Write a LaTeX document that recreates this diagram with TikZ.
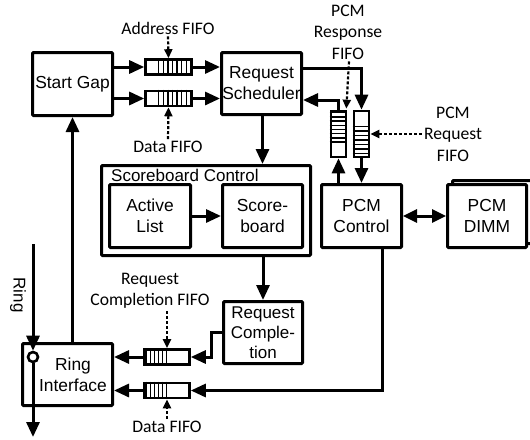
\documentclass[tikz,border=0pt]{standalone}
\usepackage{fontspec}
\setmainfont{Liberation Sans}
\newfontfamily\calfont{Carlito}
\usetikzlibrary{arrows.meta,calc}
\begin{document}
\begin{tikzpicture}[x=1pt,y=-1pt,
  box/.style={draw,line width=3pt,rounded corners=1pt,align=center,inner sep=0pt,font=\fontsize{17.4}{21}\selectfont},
  fifo/.style={draw,line width=2.6pt,fill=white,inner sep=0pt},
  stripe/.style={line width=1.5pt},
  conn/.style={line width=3pt,-{Triangle[length=15pt,width=13pt]}},
  dconn/.style={line width=3pt,{Triangle[length=14pt,width=13pt]}-{Triangle[length=14pt,width=13pt]}},
  dotarr/.style={line width=2.2pt,dash pattern=on 3pt off 2pt,-{Triangle[length=9pt,width=8pt]}},
  lbl/.style={font=\calfont\fontsize{17.6}{21.5}\selectfont,align=center,inner sep=0pt},
]
\useasboundingbox (0,0) rectangle (530,439);

% boxes
\node[box,minimum width=80pt,minimum height=63pt] (startgap) at (72.5,84) {Start Gap};
\node[box,minimum width=80pt,minimum height=62pt] (sched) at (261.5,83.5) {Request\\Scheduler};
\node[box,minimum width=209pt,minimum height=90pt] (sbctrl) at (206,210.5) {};
\node[anchor=west,inner sep=0pt,font=\fontsize{17}{21}\selectfont] (sbclbl) at (111,175) {Scoreboard Control};
\node[box,minimum width=81pt,minimum height=63pt] (active) at (150,216) {Active\\List};
\node[box,minimum width=80pt,minimum height=63pt] (score) at (262.5,216) {Score-\\board};
\node[box,minimum width=79pt,minimum height=62pt,font=\fontsize{17}{20}\selectfont] (reqcomp) at (263,332.5) {Request\\Comple-\\tion};
\node[box,minimum width=90pt,minimum height=62pt] (ringif) at (67.5,374.5) {};
\node[box,draw=none] (ringtxt) at (73,375) {Ring\\Interface};
\node[box,minimum width=80pt,minimum height=63pt] (pcmctrl) at (361.5,216) {PCM\\Control};
\node[box,minimum width=79pt,minimum height=63pt] (pcmback) at (492,212) {};
\node[box,fill=white,minimum width=79pt,minimum height=63pt] (pcmdimm) at (487,216) {PCM\\DIMM};

% fifos
\node[fifo,minimum width=46pt,minimum height=15pt] (addr) at (168.5,67) {};
\node[fifo,minimum width=46pt,minimum height=15pt] (data) at (168.5,98.5) {};
\node[fifo,minimum width=45pt,minimum height=15pt] (rcfifo) at (167,357) {};
\node[fifo,minimum width=45pt,minimum height=15pt] (dfifo) at (167,390.5) {};
\node[fifo,minimum width=15pt,minimum height=46pt] (respf) at (338.5,134) {};
\node[fifo,minimum width=15pt,minimum height=46pt] (reqf) at (361.5,134) {};

\foreach \f in {addr,data}{
  \foreach \i in {0,...,6}{
    \draw[stripe] ($(\f.north west)+(14.5+4.6*\i,0)$) -- ($(\f.south west)+(14.5+4.6*\i,0)$);
  }
}
\foreach \f in {rcfifo,dfifo}{
  \foreach \i in {0,...,5}{
    \draw[stripe] ($(\f.north west)+(3+4.1*\i,0)$) -- ($(\f.south west)+(3+4.1*\i,0)$);
  }
}
\foreach \i in {0,...,7}{
  \draw[stripe] ($(respf.north west)+(0,3+4.2*\i)$) -- ($(respf.north east)+(0,3+4.2*\i)$);
}
\foreach \i in {0,...,6}{
  \draw[stripe] ($(reqf.north west)+(0,17+4.5*\i)$) -- ($(reqf.north east)+(0,17+4.5*\i)$);
}

% labels
\node[lbl] (addrlbl) at (168,28) {Address FIFO};
\node[lbl] (datalbl) at (168,147) {Data FIFO};
\node[lbl] (resplbl) at (348,32) {PCM\\Response\\FIFO};
\node[lbl] (reqlbl) at (453,134) {PCM\\Request\\FIFO};
\node[lbl] (rclbl) at (150,291) {Request\\Completion FIFO};
\node[lbl] (dlbl) at (167,427) {Data FIFO};
\node[rotate=-90,inner sep=0pt,font=\fontsize{17}{21}\selectfont] (ringlbl) at (18,295) {Ring};

% connectors
\draw[conn] (startgap.east |- addr.west) -- (addr.west);
\draw[conn] (addr.east) -- (sched.west |- addr.east);
\draw[conn] (startgap.east |- data.west) -- (data.west);
\draw[conn] (data.east) -- (sched.west |- data.east);
\draw[conn] (sched.south -| score.north) -- (sbctrl.north -| score.north);
\draw[conn] (sbctrl.south -| reqcomp.north) -- (reqcomp.north);
\draw[conn] (active.east) -- (score.west);
\draw[conn] ($(sched.east)+(0,-15.5)$) -| (reqf.north);
\draw[conn] (respf.north) |- ($(sched.east)+(0,16.5)$);
\draw[conn] (respf.south |- pcmctrl.north) -- (respf.south);
\draw[conn] (reqf.south) -- (reqf.south |- pcmctrl.north);
\draw[dconn] (pcmctrl.east) -- (pcmdimm.west);
\draw[conn] ($(reqcomp.west)+(0,-0.5)$) -- ++(-11,0) |- (rcfifo.east);
\draw[conn] (rcfifo.west) -- (ringif.east |- rcfifo.west);
\draw[conn] ($(pcmctrl.south)+(20.5,0)$) |- (dfifo.east);
\draw[conn] (dfifo.west) -- (ringif.east |- dfifo.west);
\draw[conn] (startgap.south |- ringif.north) -- (startgap.south);

% ring
\coordinate (ringtop) at (33,244);
\coordinate (ringbot) at (33,437);
\node[circle,draw,line width=2.6pt,fill=white,minimum size=10pt,inner sep=0pt] (ringc) at (33,357) {};
\draw[conn] (ringtop) -- (ringc.north);
\draw[conn] (ringc.south) -- (ringbot);

% dotted pointers
\draw[dotarr] (addrlbl.south) ++(0,2) -- (addr.north);
\draw[dotarr] (datalbl.north) ++(0,-2) -- (data.south);
\draw[dotarr] ($(resplbl.south)+(1,2)$) -- ($(respf.north east)+(-1,-1)$);
\draw[dotarr] ($(reqlbl.west)+(-2,0)$) -- (reqf.east);
\draw[dotarr] ($(rcfifo.north |- rclbl.south)+(0,2)$) -- (rcfifo.north);
\draw[dotarr] ($(dfifo.south |- dlbl.north)+(0,-2)$) -- (dfifo.south);
\end{tikzpicture}
\end{document}
